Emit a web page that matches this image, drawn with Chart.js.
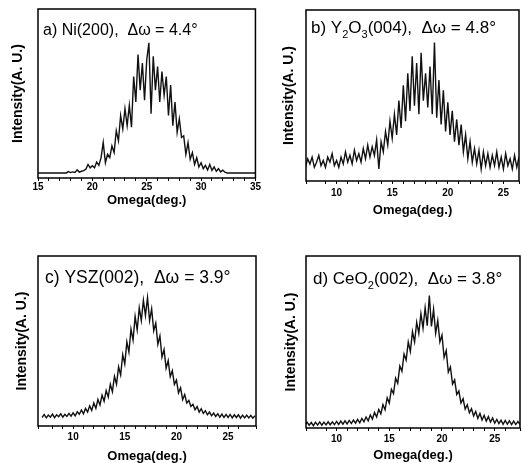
<!DOCTYPE html>
<html>
<head>
<meta charset="utf-8">
<script src="https://cdn.jsdelivr.net/npm/chart.js@4.4.1/dist/chart.umd.min.js"></script>
<style>
  html, body { margin: 0; padding: 0; background: #fff; overflow: hidden; }
  #wrap { position: relative; width: 522px; height: 463px; overflow: hidden; }
  canvas { position: absolute; }
</style>
</head>
<body>
<div id="wrap">
  <canvas id="ca" width="261" height="231" style="left:0;top:0"></canvas>
  <canvas id="cb" width="261" height="231" style="left:261px;top:0"></canvas>
  <canvas id="cc" width="261" height="240" style="left:0;top:231px"></canvas>
  <canvas id="cd" width="261" height="240" style="left:261px;top:231px"></canvas>
</div>
<script>
// omega grid (deg.) for panel a
const omegaA = [15.0,
  17.6, 17.8, 18.0, 18.2, 18.4, 18.6, 18.8, 19.0, 19.2, 19.4,
  19.6, 19.8, 20.0, 20.2, 20.4, 20.6, 20.8, 21.0, 21.2, 21.4,
  21.6, 21.8, 22.0, 22.2, 22.4, 22.6, 22.8, 23.0, 23.2, 23.4,
  23.6, 23.8, 24.0, 24.2, 24.4, 24.6, 24.8, 25.0, 25.2, 25.4,
  25.6, 25.8, 26.0, 26.2, 26.4, 26.6, 26.8, 27.0, 27.2, 27.4,
  27.6, 27.8, 28.0, 28.2, 28.4, 28.6, 28.8, 29.0, 29.2, 29.4,
  29.6, 29.8, 30.0, 30.2, 30.4, 30.6, 30.8, 31.0, 31.2, 31.4,
  31.6, 31.8, 32.0, 32.2, 32.4,
  35.0];
// a) Ni(200) intensity (arb. units, 0-100 of plot height)
const intensityA = [3.0,
  3.0, 3.8, 3.2, 3.6, 3.3, 4.8, 3.5, 4.0, 4.4, 5.2,
  8.0, 6.0, 7.2, 6.0, 9.5, 7.5, 12, 21, 9, 14,
  12, 19, 15, 28, 22, 37, 29, 41, 31, 43,
  30, 60, 45, 73, 52, 68, 46, 70, 80, 38,
  72, 52, 66, 45, 63, 49, 60, 37, 55, 31,
  45, 27, 35, 24, 25, 14, 21, 11, 15, 8,
  12, 6.5, 9.0, 5.5, 7.5, 4.8, 8.0, 4.5, 6.5, 4.0,
  5.5, 3.6, 4.6, 3.4, 3.0,
  3.0];

// shared omega grid for panels b, c, d
const omegaBCD = [
  7.0, 7.2, 7.4, 7.6, 7.8, 8.0, 8.2, 8.4, 8.6, 8.8,
  9.0, 9.2, 9.4, 9.6, 9.8, 10.0, 10.2, 10.4, 10.6, 10.8,
  11.0, 11.2, 11.4, 11.6, 11.8, 12.0, 12.2, 12.4, 12.6, 12.8,
  13.0, 13.2, 13.4, 13.6, 13.8, 14.0, 14.2, 14.4, 14.6, 14.8,
  15.0, 15.2, 15.4, 15.6, 15.8, 16.0, 16.2, 16.4, 16.6, 16.8,
  17.0, 17.2, 17.4, 17.6, 17.8, 18.0, 18.2, 18.4, 18.6, 18.8,
  19.0, 19.2, 19.4, 19.6, 19.8, 20.0, 20.2, 20.4, 20.6, 20.8,
  21.0, 21.2, 21.4, 21.6, 21.8, 22.0, 22.2, 22.4, 22.6, 22.8,
  23.0, 23.2, 23.4, 23.6, 23.8, 24.0, 24.2, 24.4, 24.6, 24.8,
  25.0, 25.2, 25.4, 25.6, 25.8, 26.0, 26.2, 26.4, 26.6, 26.8,
  27.0, 27.2, 27.4, 27.6];
// b) Y2O3(004)
const intensityB = [
  11, 8, 13, 10, 14, 8, 11, 15, 9, 12,
  8, 14, 11, 16, 9, 12, 8, 14, 10, 17,
  11, 15, 10, 18, 12, 16, 11, 19, 13, 21,
  14, 20, 15, 24, 7, 23, 17, 29, 21, 35,
  25, 39, 27, 47, 31, 56, 35, 63, 41, 73,
  44, 69, 39, 75, 47, 63, 43, 67, 39, 81,
  37, 59, 33, 53, 29, 46, 27, 41, 23, 36,
  21, 33, 17, 27, 13, 23, 11, 19, 10, 18,
  7, 17, 9, 16, 8, 15, 9, 17, 8, 14,
  7, 16, 9, 13, 7, 15, 8, 14, 9, 13,
  10, 14, 9, 13];
// c) YSZ(002)
const intensityC = [
  5.0, 6.8, 4.8, 6.4, 5.2, 7.0, 4.9, 6.6, 5.5, 7.2,
  5.2, 6.9, 5.6, 7.4, 5.8, 7.8, 6.0, 8.4, 6.9, 9.4,
  7.2, 10.4, 8.2, 11.8, 9.2, 13.6, 10.4, 15.6, 12.4, 18.2,
  14.6, 20.8, 17.0, 24.6, 20.2, 29.2, 24.6, 34.8, 30.0, 42.0,
  36.5, 49.5, 43.5, 57.0, 50.5, 64.5, 56.5, 69.5, 62.0, 74.0,
  65.0, 75.5, 62.0, 69.0, 56.0, 60.5, 48.0, 53.0, 40.5, 45.0,
  34.0, 38.5, 29.0, 32.5, 24.5, 27.0, 19.5, 22.5, 15.5, 18.5,
  13.5, 15.0, 11.5, 12.8, 9.6, 11.4, 8.2, 10.2, 7.4, 9.0,
  6.6, 8.2, 6.0, 7.6, 5.6, 7.2, 5.2, 7.0, 5.0, 6.8,
  5.0, 6.8, 4.8, 6.6, 5.0, 6.6, 4.6, 6.4, 4.8, 6.4,
  4.8, 6.2, 4.6, 6.0];
// d) CeO2(002)
const intensityD = [
  1.6, 3.4, 1.6, 3.2, 1.4, 3.4, 1.7, 3.5, 1.6, 3.4,
  1.8, 3.6, 1.9, 3.6, 2.0, 3.8, 2.1, 4.0, 2.2, 4.2,
  2.4, 4.4, 2.6, 4.6, 2.8, 5.0, 3.0, 5.6, 3.6, 6.4,
  4.2, 7.6, 5.2, 9.0, 6.4, 10.8, 8.2, 13.6, 10.6, 17.6,
  14.5, 22.5, 20.0, 29.0, 26.0, 36.0, 33.0, 43.0, 39.5, 50.0,
  44.5, 56.0, 50.0, 61.5, 55.0, 66.5, 58.0, 70.0, 59.5, 77.0,
  59.0, 69.0, 55.0, 62.5, 50.0, 54.0, 41.0, 45.0, 32.5, 35.5,
  25.5, 28.0, 19.5, 21.5, 14.5, 17.0, 11.0, 13.5, 8.8, 11.2,
  7.0, 9.6, 5.6, 8.4, 4.6, 7.4, 4.0, 6.6, 3.4, 5.8,
  2.8, 5.0, 2.6, 4.6, 2.2, 4.4, 2.2, 4.2, 2.0, 4.0,
  2.0, 3.8, 2.0, 3.6];

const FONT = "'Liberation Sans', Arial, sans-serif";

// box round the plot + panel label with subscripts
const boxAndLabel = {
  id: 'boxAndLabel',
  afterDatasetsDraw(chart, args, opts) {
    const ctx = chart.ctx;
    const a = chart.chartArea;
    ctx.save();
    ctx.strokeStyle = '#000';
    ctx.lineWidth = 1.5;
    ctx.strokeRect(a.left, a.top, a.right - a.left, a.bottom - a.top);
    ctx.fillStyle = '#000';
    ctx.textBaseline = 'alphabetic';
    let x = opts.x;
    opts.parts.forEach(p => {
      const sub = p[1] === 'sub';
      ctx.font = (sub ? Math.round(opts.size * 0.62) : opts.size) + 'px ' + FONT;
      ctx.fillText(p[0], x, opts.y + (sub ? 5 : 0));
      x += ctx.measureText(p[0]).width;
    });
    ctx.restore();
  }
};

function makePanel(id, p) {
  const el = document.getElementById(id);
  const H = el.height, W = el.width;
  return new Chart(el, {
    type: 'line',
    data: {
      datasets: [{
        data: p.x.map((v, i) => ({ x: v, y: p.y[i] })),
        borderColor: '#111',
        borderWidth: 1.4,
        pointRadius: 0,
        tension: 0
      }]
    },
    options: {
      responsive: false,
      animation: false,
      layout: { padding: { top: p.area[1], right: W - p.area[2], left: 0, bottom: 0 } },
      plugins: {
        legend: { display: false },
        tooltip: { enabled: false },
        boxAndLabel: { parts: p.label, x: p.labelX, y: p.labelY, size: p.labelSize }
      },
      scales: {
        x: {
          type: 'linear',
          min: p.xmin,
          max: p.xmax,
          afterFit: s => { s.height = H - p.area[3]; },
          border: { display: false },
          grid: { drawOnChartArea: false, tickLength: 3, color: '#000' },
          ticks: {
            stepSize: 1,
            autoSkip: false,
            maxRotation: 0,
            padding: p.tickPad,
            color: '#000',
            font: { family: FONT, size: 10, weight: 'bold' },
            callback: v => (v % 5 === 0 ? v : '')
          },
          title: {
            display: true,
            text: 'Omega(deg.)',
            color: '#000',
            font: { family: FONT, size: 13, weight: 'bold' },
            padding: { top: 0, bottom: p.xTitlePad }
          }
        },
        y: {
          min: 0,
          max: 100,
          afterFit: s => { s.width = p.area[0]; },
          border: { display: false },
          grid: { display: false },
          ticks: { display: false },
          title: {
            display: true,
            text: 'Intensity(A. U.)',
            color: '#000',
            font: { family: FONT, size: 14, weight: 'bold' },
            padding: { top: p.yTitlePad, bottom: 0 }
          }
        }
      }
    },
    plugins: [boxAndLabel]
  });
}

makePanel('ca', {
  x: omegaA, y: intensityA, xmin: 15, xmax: 35,
  area: [38, 9, 256, 178], tickPad: 0, xTitlePad: 23, yTitlePad: 9.6,
  label: [['a) Ni(200),  \u0394\u03c9 = 4.4\u00b0', 'n']], labelX: 43, labelY: 35, labelSize: 16
});
makePanel('cb', {
  x: omegaBCD, y: intensityB, xmin: 7.25, xmax: 26.4,
  area: [45, 10, 261, 181], tickPad: 3, xTitlePad: 13, yTitlePad: 19.6,
  label: [['b) Y', 'n'], ['2', 'sub'], ['O', 'n'], ['3', 'sub'], ['(004),  \u0394\u03c9 = 4.8\u00b0', 'n']],
  labelX: 50, labelY: 33, labelSize: 17
});
makePanel('cc', {
  x: omegaBCD, y: intensityC, xmin: 6.6, xmax: 27.7,
  area: [38, 25, 256, 195], tickPad: 2, xTitlePad: 7, yTitlePad: 13.6,
  label: [['c) YSZ(002),  \u0394\u03c9 = 3.9\u00b0', 'n']], labelX: 45, labelY: 52, labelSize: 17.5
});
makePanel('cd', {
  x: omegaBCD, y: intensityD, xmin: 7.1, xmax: 27.4,
  area: [45, 25, 261, 197], tickPad: 2, xTitlePad: 8, yTitlePad: 21.6,
  label: [['d) CeO', 'n'], ['2', 'sub'], ['(002),  \u0394\u03c9 = 3.8\u00b0', 'n']],
  labelX: 52, labelY: 53, labelSize: 17
});
</script>
</body>
</html>
